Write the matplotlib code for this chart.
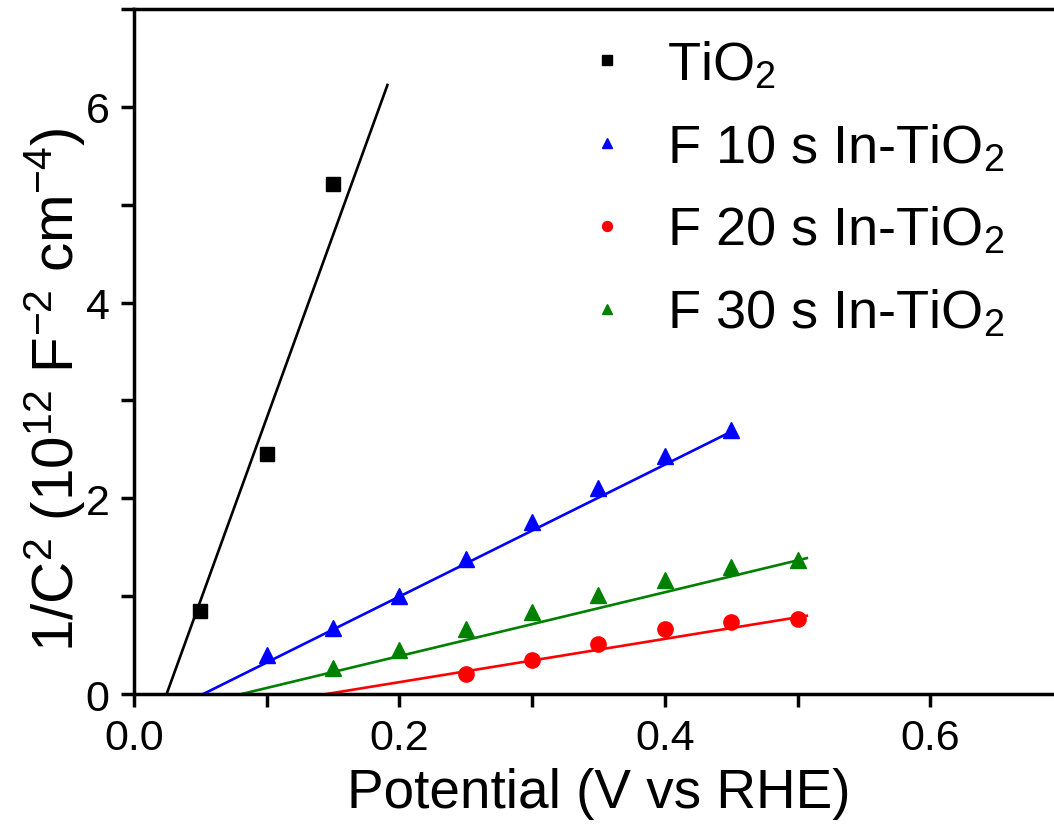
import numpy as np
import matplotlib
matplotlib.use("Agg")
from matplotlib import pyplot as plt

plt.rcParams['font.family'] = ['Liberation Sans', 'DejaVu Sans']
plt.rcParams['mathtext.fontset'] = 'custom'
plt.rcParams['mathtext.rm'] = 'Liberation Sans'
plt.rcParams['mathtext.it'] = 'Liberation Sans'

# data
x_tio2 = [0.05, 0.10, 0.15]
y_tio2 = [0.85, 2.45, 5.21]
x_f10 = [0.10, 0.15, 0.20, 0.25, 0.30, 0.35, 0.40, 0.45]
y_f10 = [0.40, 0.67, 1.00, 1.38, 1.76, 2.11, 2.43, 2.70]
x_f20 = [0.25, 0.30, 0.35, 0.40, 0.45, 0.50]
y_f20 = [0.20, 0.35, 0.51, 0.66, 0.74, 0.77]
x_f30 = [0.15, 0.20, 0.25, 0.30, 0.35, 0.40, 0.45, 0.50]
y_f30 = [0.27, 0.45, 0.66, 0.84, 1.01, 1.17, 1.30, 1.37]

# linear fits: x intercept, slope, end of line
fit_x0 = [0.0246, 0.0522, 0.145, 0.081]
fit_slope = [37.4, 6.74, 2.21, 3.26]
fit_x1 = [0.191, 0.446, 0.507, 0.507]

labels = ["TiO$_2$", "F 10 s In-TiO$_2$", "F 20 s In-TiO$_2$", "F 30 s In-TiO$_2$"]
colors = ["black", "#0000ff", "#ff0000", "#008000"]
markers = ["s", "^", "o", "^"]
msizes = [10, 12, 11, 12]
xs = [x_tio2, x_f10, x_f20, x_f30]
ys = [y_tio2, y_f10, y_f20, y_f30]

fig = plt.figure(figsize=(10.54, 8.29), dpi=100)
ax = fig.add_axes([0.1271, 0.1616, 0.8814, 0.8263])

for i in range(4):
    ax.plot(xs[i], ys[i], linestyle="none", marker=markers[i], color=colors[i],
            markersize=msizes[i], label=labels[i])
    lx = np.array([fit_x0[i], fit_x1[i]])
    ax.plot(lx, fit_slope[i] * (lx - fit_x0[i]), color=colors[i], lw=1.9)

ax.set_xlim(0, 0.7)
ax.set_ylim(0, 7)
ax.set_xticks(np.arange(0, 0.71, 0.1))
ax.set_xticklabels(["0.0", "", "0.2", "", "0.4", "", "0.6", ""])
ax.set_yticks(range(0, 8))
ax.set_yticklabels(["0", "", "2", "", "4", "", "6", ""])
ax.tick_params(direction="out", length=9.5, width=2.5, labelsize=31, pad=8)
for s in ["left", "bottom", "top", "right"]:
    ax.spines[s].set_linewidth(2.5)

ax.set_xlabel("Potential (V vs RHE)", fontsize=39.5, labelpad=6)
ax.set_ylabel("1/C$^2$ (10$^{12}$ F$^{\\mathrm{-}2}$ cm$^{\\mathrm{-}4}$)", fontsize=42)
ax.yaxis.set_label_coords(-0.05, 0.445)

ax.legend(loc="upper left", bbox_to_anchor=(580 / 1054, 1 - 40 / 829),
          bbox_transform=fig.transFigure, frameon=False, fontsize=39,
          markerscale=0.65, handlelength=1.0, handletextpad=0.6,
          labelspacing=0.58, borderpad=0, borderaxespad=0)

plt.savefig("out.png", dpi=100)
